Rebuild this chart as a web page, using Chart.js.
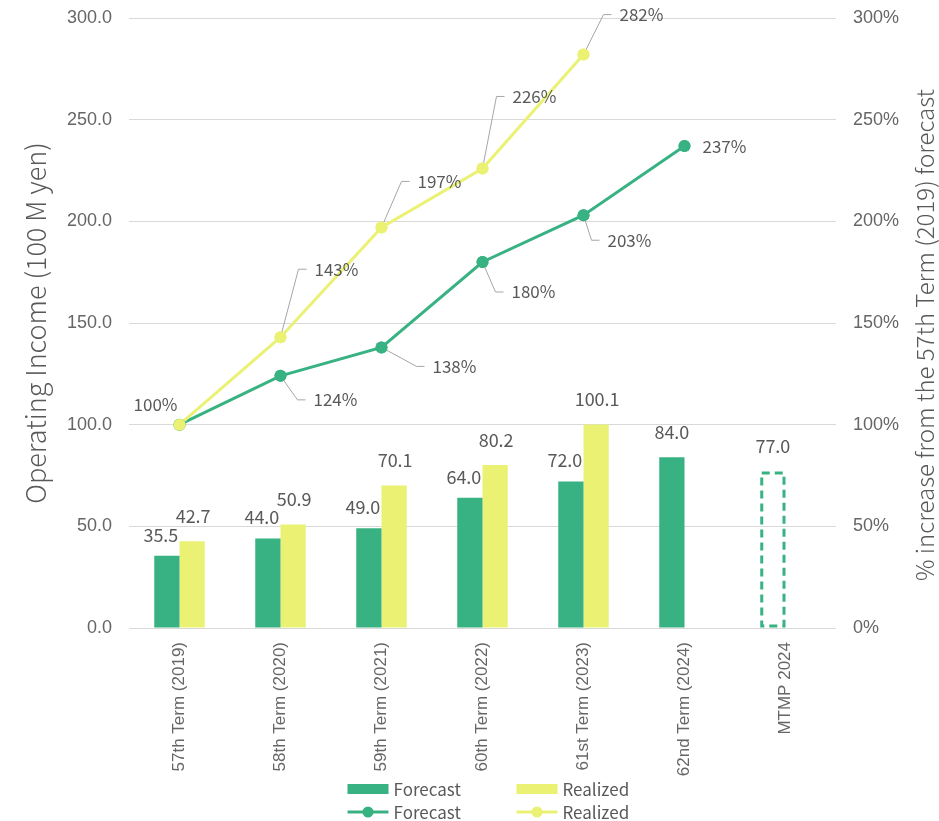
<!DOCTYPE html>
<html>
<head>
<meta charset="utf-8">
<script src="https://cdn.jsdelivr.net/npm/chart.js@4"></script>
<style>
  html, body { margin: 0; padding: 0; background: #fff; }
  #wrap { width: 939px; height: 821px; position: relative; }
</style>
</head>
<body>
<div id="wrap"><canvas id="incomeChart"></canvas></div>
<script>
// ---- data ----
const categories = [
  "57th Term (2019)", "58th Term (2020)", "59th Term (2021)",
  "60th Term (2022)", "61st Term (2023)", "62nd Term (2024)", "MTMP 2024"
];
const forecastIncome = [35.5, 44.0, 49.0, 64.0, 72.0, 84.0, 77.0];
const realizedIncome = [42.7, 50.9, 70.1, 80.2, 100.1, null, null];
const forecastGrowth = [100, 124, 138, 180, 203, 237, null];
const realizedGrowth = [100, 143, 197, 226, 282, null, null];
const planIndex = categories.indexOf("MTMP 2024");

// ---- style ----
const GREEN = "#38b282";
const YELLOW = "#eaf173";
const LABEL_GREY = "#595959";
const TICK_GREY = "#666666";
const LABEL_FONT = "'Noto Sans CJK JP', 'Noto Sans', sans-serif";
const TICK_FONT = "'Liberation Sans', Arial, sans-serif";

// label placement next to line points (dx/dy from point to text start)
const forecastGrowthLabelPos = [
  { dx: -24, dy: -20, center: true },
  { dx: 33, dy: 24, leader: true },
  { dx: 51, dy: 19, leader: true },
  { dx: 29, dy: 30, leader: true },
  { dx: 24, dy: 25, leader: true },
  { dx: 18, dy: 0 },
  null
];
const realizedGrowthLabelPos = [
  null,
  { dx: 34, dy: -68, leader: true },
  { dx: 36, dy: -46, leader: true },
  { dx: 30, dy: -72, leader: true },
  { dx: 36, dy: -40, leader: true },
  null, null
];

// ---- plugins ----
const planBarOutline = {
  id: "planBarOutline",
  afterDatasetsDraw(chart) {
    const bar = chart.getDatasetMeta(0).data[planIndex];
    if (!bar) return;
    const ctx = chart.ctx;
    ctx.save();
    ctx.strokeStyle = GREEN;
    ctx.lineWidth = 3;
    ctx.setLineDash([8, 5]);
    const x = bar.x - bar.width / 2 + 1.5;
    ctx.strokeRect(x, bar.y + 1.5, bar.width - 3, bar.base - bar.y - 3);
    ctx.restore();
  }
};

const valueLabels = {
  id: "valueLabels",
  afterDraw(chart) {
    const ctx = chart.ctx;
    ctx.save();
    ctx.fillStyle = LABEL_GREY;
    ctx.textBaseline = "middle";

    // bar labels
    ctx.font = "18px " + LABEL_FONT;
    const fMeta = chart.getDatasetMeta(0);
    const rMeta = chart.getDatasetMeta(1);
    forecastIncome.forEach((v, i) => {
      const el = fMeta.data[i];
      const paired = realizedIncome[i] != null;
      ctx.textAlign = "center";
      ctx.fillText(v.toFixed(1), el.x - (paired ? 6 : 0), el.y - (paired ? 21 : 25));
    });
    realizedIncome.forEach((v, i) => {
      if (v == null) return;
      const el = rMeta.data[i];
      ctx.textAlign = "center";
      ctx.fillText(v.toFixed(1), el.x + 1, el.y - 25);
    });

    // line labels
    ctx.font = "17px " + LABEL_FONT;
    const drawLine = (metaIdx, values, pos) => {
      const meta = chart.getDatasetMeta(metaIdx);
      values.forEach((v, i) => {
        const p = pos[i];
        if (v == null || !p) return;
        const el = meta.data[i];
        const tx = el.x + p.dx, ty = el.y + p.dy;
        if (p.leader) {
          ctx.save();
          ctx.strokeStyle = "#a6a6a6";
          ctx.lineWidth = 1;
          ctx.beginPath();
          ctx.moveTo(el.x, el.y);
          ctx.lineTo(tx - 16, ty);
          ctx.lineTo(tx - 8, ty);
          ctx.stroke();
          ctx.restore();
        }
        ctx.textAlign = p.center ? "center" : "left";
        ctx.fillText(v + "%", tx, ty);
      });
    };
    drawLine(2, forecastGrowth, forecastGrowthLabelPos);
    drawLine(3, realizedGrowth, realizedGrowthLabelPos);
    ctx.restore();
  }
};

// draws the points again on top of the leader lines
const pointsOnTop = {
  id: "pointsOnTop",
  afterDraw(chart) {
    [2, 3].forEach(i => {
      const meta = chart.getDatasetMeta(i);
      meta.data.forEach(el => { if (!el.skip) el.draw(chart.ctx, chart.chartArea); });
    });
  }
};

const rightTitle = {
  id: "rightTitle",
  afterDraw(chart) {
    const ctx = chart.ctx;
    ctx.save();
    ctx.translate(chart.width - 14, 335);
    ctx.rotate(-Math.PI / 2);
    ctx.fillStyle = LABEL_GREY;
    ctx.font = "300 24px " + LABEL_FONT;
    ctx.textAlign = "center";
    ctx.textBaseline = "middle";
    ctx.fillText("% increase from the 57th Term (2019) forecast", 0, 0);
    ctx.restore();
  }
};

const bottomLegend = {
  id: "bottomLegend",
  afterDraw(chart) {
    const ctx = chart.ctx;
    const mid = chart.width / 2;
    const cols = [mid - 122, mid + 47];
    const rows = [789, 812];
    const items = [
      { type: "bar", color: GREEN, text: "Forecast", col: 0, row: 0 },
      { type: "bar", color: YELLOW, text: "Realized", col: 1, row: 0 },
      { type: "line", color: GREEN, text: "Forecast", col: 0, row: 1 },
      { type: "line", color: YELLOW, text: "Realized", col: 1, row: 1 }
    ];
    ctx.save();
    ctx.font = "17px " + LABEL_FONT;
    ctx.textBaseline = "middle";
    ctx.textAlign = "left";
    items.forEach(it => {
      const x = cols[it.col], y = rows[it.row];
      ctx.fillStyle = it.color;
      ctx.strokeStyle = it.color;
      if (it.type === "bar") {
        ctx.fillRect(x, y - 5, 41, 10);
      } else {
        ctx.lineWidth = 3;
        ctx.beginPath();
        ctx.moveTo(x, y);
        ctx.lineTo(x + 41, y);
        ctx.stroke();
        ctx.beginPath();
        ctx.arc(x + 20.5, y, 5.5, 0, Math.PI * 2);
        ctx.fill();
      }
      ctx.fillStyle = LABEL_GREY;
      ctx.fillText(it.text, x + 46, y + 1);
    });
    ctx.restore();
  }
};

// ---- chart ----
const ctx = document.getElementById("incomeChart").getContext("2d");
new Chart(ctx, {
  data: {
    labels: categories,
    datasets: [
      {
        type: "bar",
        label: "Forecast",
        data: forecastIncome,
        backgroundColor: c => c.dataIndex === planIndex ? "rgba(0,0,0,0)" : GREEN,
        yAxisID: "y",
        order: 2,
        categoryPercentage: 0.5,
        barPercentage: 1.0
      },
      {
        type: "bar",
        label: "Realized",
        data: realizedIncome,
        backgroundColor: YELLOW,
        yAxisID: "y",
        order: 2,
        categoryPercentage: 0.5,
        barPercentage: 1.0
      },
      {
        type: "line",
        label: "Forecast",
        data: forecastGrowth,
        borderColor: GREEN,
        backgroundColor: GREEN,
        borderWidth: 3,
        pointRadius: 6,
        pointBorderWidth: 0,
        pointHoverRadius: 6,
        yAxisID: "y1",
        order: 1,
        tension: 0
      },
      {
        type: "line",
        label: "Realized",
        data: realizedGrowth,
        borderColor: YELLOW,
        backgroundColor: YELLOW,
        borderWidth: 3,
        pointRadius: 6,
        pointBorderWidth: 0,
        pointHoverRadius: 6,
        yAxisID: "y1",
        order: 0,
        tension: 0
      }
    ]
  },
  options: {
    responsive: true,
    maintainAspectRatio: false,
    animation: false,
    layout: { padding: { top: 18, left: 0, right: 0, bottom: 0 } },
    plugins: {
      legend: { display: false },
      tooltip: { enabled: false }
    },
    scales: {
      x: {
        grid: { display: false },
        border: { display: false },
        ticks: {
          color: TICK_GREY,
          font: { family: TICK_FONT, size: 17 },
          minRotation: 90,
          maxRotation: 90,
          autoSkip: false,
          padding: 6
        },
        afterFit: s => { s.height = 193; }
      },
      y: {
        position: "left",
        min: 0,
        max: 300,
        ticks: {
          stepSize: 50,
          color: TICK_GREY,
          font: { family: TICK_FONT, size: 18 },
          padding: 17,
          callback: v => v.toFixed(1)
        },
        grid: { color: "#d9d9d9", lineWidth: 1, drawTicks: false },
        border: { display: false },
        title: {
          display: true,
          text: "Operating Income (100 M yen)",
          color: LABEL_GREY,
          font: { family: LABEL_FONT, size: 27, weight: 300 },
          padding: { top: 20, bottom: 0 }
        },
        afterFit: s => { s.width = 129; s.paddingTop = 0; }
      },
      y1: {
        position: "right",
        min: 0,
        max: 300,
        ticks: {
          stepSize: 50,
          color: TICK_GREY,
          font: { family: TICK_FONT, size: 18 },
          padding: 17,
          callback: v => v + "%"
        },
        grid: { display: false, drawTicks: false },
        border: { display: false },
        afterFit: s => { s.width = 103; s.paddingTop = 0; }
      }
    }
  },
  plugins: [planBarOutline, valueLabels, pointsOnTop, rightTitle, bottomLegend]
});
</script>
</body>
</html>
